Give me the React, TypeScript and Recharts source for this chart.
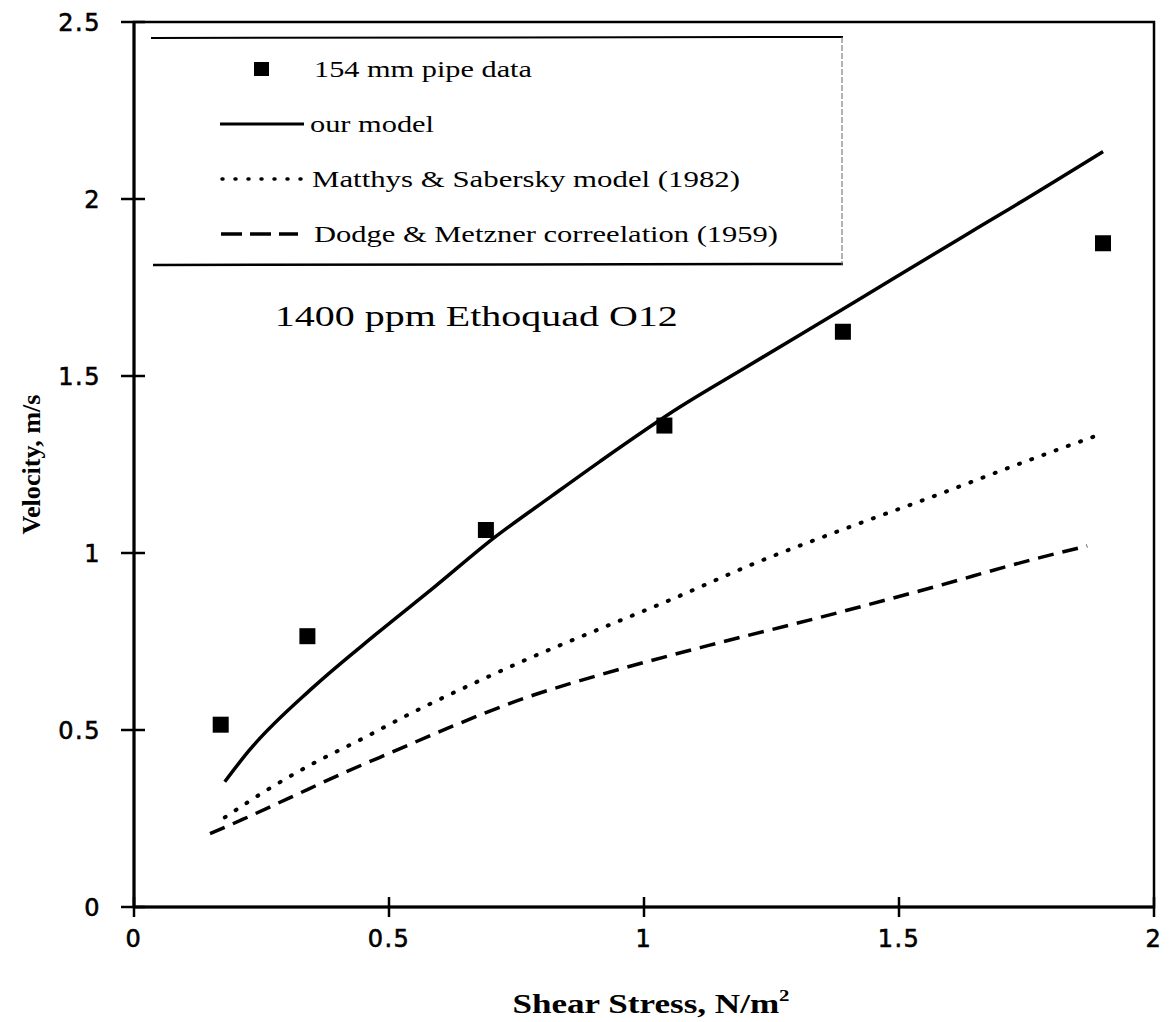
import {
  ComposedChart,
  Line,
  Scatter,
  XAxis,
  YAxis,
  Legend,
  ReferenceArea,
  ReferenceDot,
} from 'recharts';

// 154 mm pipe measurements
const pipeShear = [0.17, 0.34, 0.69, 1.04, 1.39, 1.9];
const pipeVelocity = [0.515, 0.765, 1.065, 1.36, 1.625, 1.875];

// our model
const modelShear = [0.178, 0.225, 0.35, 0.474, 0.59, 0.707, 0.818, 0.914, 1.071, 1.199, 1.414, 1.627, 1.698, 1.9];
const modelVelocity = [0.354, 0.441, 0.619, 0.77, 0.905, 1.044, 1.16, 1.259, 1.413, 1.524, 1.71, 1.895, 1.956, 2.134];

// Matthys & Sabersky model (1982)
const matthysShear = [0.178, 0.267, 0.348, 0.443, 0.551, 0.659, 0.763, 0.924, 1.049, 1.214, 1.406, 1.556, 1.76, 1.894];
const matthysVelocity = [0.253, 0.336, 0.403, 0.472, 0.553, 0.627, 0.695, 0.792, 0.866, 0.969, 1.075, 1.154, 1.265, 1.335];

// Dodge & Metzner correlation (1959)
const dodgeShear = [0.149, 0.214, 0.306, 0.41, 0.515, 0.62, 0.77, 0.914, 1.127, 1.342, 1.556, 1.771, 1.869];
const dodgeVelocity = [0.207, 0.248, 0.309, 0.378, 0.443, 0.508, 0.592, 0.656, 0.739, 0.817, 0.899, 0.985, 1.02];

const xTicks = [0, 0.5, 1, 1.5, 2];
const yTicks = [0, 0.5, 1, 1.5, 2, 2.5];

const seriesNames = [
  '154 mm pipe data',
  'our model',
  'Matthys & Sabersky model (1982)',
  'Dodge & Metzner correelation (1959)',
];
const noteText = '1400 ppm Ethoquad O12';
const noteX = 0.276;
const noteY = 1.64;

const zip = (xs: number[], ys: number[]) => xs.map((x, i) => ({ x, y: ys[i] }));

const pipeData = zip(pipeShear, pipeVelocity);
const modelData = zip(modelShear, modelVelocity);
const matthysData = zip(matthysShear, matthysVelocity);
const dodgeData = zip(dodgeShear, dodgeVelocity);

const SERIF = "'Liberation Serif', 'Times New Roman', serif";
const SANS = "'DejaVu Sans', Arial, sans-serif";
const DOTS = '1 12';
const DASHES = '16 9';

const tickText = {
  fontFamily: SANS,
  fontSize: 24,
  letterSpacing: 1.5,
  fill: '#000',
  stroke: '#000',
  strokeWidth: 0.6,
};

function XTick({ x, y, payload }: any) {
  return (
    <g>
      <line x1={x} y1={y - 10} x2={x} y2={y + 10} stroke="#000" strokeWidth={2.5} />
      <text x={x} y={y + 40} textAnchor="middle" style={tickText}>
        {payload.value}
      </text>
    </g>
  );
}

function YTick({ x, y, payload }: any) {
  return (
    <g>
      <line x1={x - 13} y1={y} x2={x + 11} y2={y} stroke="#000" strokeWidth={2.5} />
      <text x={x - 33} y={y + 9} textAnchor="end" style={tickText}>
        {payload.value}
      </text>
    </g>
  );
}

function XTitle({ viewBox }: any) {
  const cx = viewBox.x + viewBox.width / 2 + 7;
  return (
    <text
      x={cx}
      y={viewBox.y + 106}
      textAnchor="middle"
      textLength={277}
      lengthAdjust="spacingAndGlyphs"
      style={{ fontFamily: SERIF, fontWeight: 'bold', fontSize: 27, fill: '#000' }}
    >
      Shear Stress, N/m
      <tspan dy={-12} style={{ fontSize: 16 }}>2</tspan>
    </text>
  );
}

function YTitle({ viewBox }: any) {
  const cx = viewBox.x + 31;
  const cy = viewBox.y + viewBox.height / 2;
  return (
    <text
      x={cx}
      y={cy}
      transform={`rotate(-90, ${cx}, ${cy})`}
      textAnchor="middle"
      dominantBaseline="central"
      textLength={140}
      lengthAdjust="spacingAndGlyphs"
      style={{ fontFamily: SERIF, fontWeight: 'bold', fontSize: 25, fill: '#000' }}
    >
      Velocity, m/s
    </text>
  );
}

function NoteLabel({ viewBox }: any) {
  return (
    <text
      x={viewBox.x + viewBox.width / 2}
      y={viewBox.y + viewBox.height / 2}
      textLength={403}
      lengthAdjust="spacingAndGlyphs"
      style={{ fontFamily: SERIF, fontSize: 30, fill: '#000' }}
    >
      {noteText}
    </text>
  );
}

function SquareMark({ cx, cy }: any) {
  return <rect x={cx - 8} y={cy - 8} width={16} height={16} fill="#000" />;
}

const legendWidths = [218, 124, 428, 464];
const legendTextX = [163, 159, 161, 163];

function LegendBox() {
  return (
    <div style={{ width: 692, height: 231 }}>
      <svg width={692} height={231} style={{ display: 'block' }}>
        <line x1={0} y1={2} x2={692} y2={1} stroke="#000" strokeWidth={2} />
        <line x1={2} y1={229} x2={692} y2={228} stroke="#000" strokeWidth={2.5} />
        <line x1={691} y1={1} x2={691} y2={229} stroke="#666" strokeWidth={1} strokeDasharray="6 2" />
        {seriesNames.map((name, i) => {
          const iconY = 33 + i * 55;
          return (
            <g key={name}>
              {i === 0 && <rect x={103} y={iconY - 7} width={15} height={14} fill="#000" />}
              {i === 1 && <line x1={69} y1={iconY} x2={153} y2={iconY} stroke="#000" strokeWidth={3} />}
              {i === 2 && (
                <line x1={71} y1={iconY} x2={152} y2={iconY} stroke="#000" strokeWidth={3.5}
                  strokeDasharray={DOTS} strokeLinecap="round" />
              )}
              {i === 3 && (
                <line x1={70} y1={iconY} x2={147} y2={iconY} stroke="#000" strokeWidth={3.5}
                  strokeDasharray="21 8" />
              )}
              <text
                x={legendTextX[i]}
                y={iconY + 8}
                textLength={legendWidths[i]}
                lengthAdjust="spacingAndGlyphs"
                style={{ fontFamily: SERIF, fontSize: 24, fill: '#000' }}
              >
                {name}
              </text>
            </g>
          );
        })}
      </svg>
    </div>
  );
}

export default function App() {
  return (
    <div style={{ position: 'absolute', left: 0, top: 0, background: '#fff' }}>
      <ComposedChart width={1171} height={1022} margin={{ top: 22, right: 17, bottom: 0, left: 0 }}>
        <XAxis
          type="number"
          dataKey="x"
          domain={[0, 2]}
          ticks={xTicks}
          height={115}
          axisLine={{ stroke: '#000', strokeWidth: 3 }}
          tickLine={false}
          tickSize={0}
          tickMargin={0}
          tick={<XTick />}
          label={<XTitle />}
        />
        <YAxis
          type="number"
          dataKey="y"
          domain={[0, 2.5]}
          ticks={yTicks}
          width={134}
          axisLine={{ stroke: '#000', strokeWidth: 3 }}
          tickLine={false}
          tickSize={0}
          tickMargin={0}
          tick={<YTick />}
          label={<YTitle />}
        />
        <ReferenceArea x1={0} x2={2} y1={0} y2={2.5} fill="none" stroke="#000" strokeWidth={2.5} />
        <Line
          data={modelData}
          dataKey="y"
          type="monotone"
          stroke="#000"
          strokeWidth={3.5}
          dot={false}
          activeDot={false}
          isAnimationActive={false}
        />
        <Line
          data={matthysData}
          dataKey="y"
          type="monotone"
          stroke="#000"
          strokeWidth={4}
          strokeDasharray={DOTS}
          strokeLinecap="round"
          dot={false}
          activeDot={false}
          isAnimationActive={false}
        />
        <Line
          data={dodgeData}
          dataKey="y"
          type="monotone"
          stroke="#000"
          strokeWidth={3.5}
          strokeDasharray={DASHES}
          dot={false}
          activeDot={false}
          isAnimationActive={false}
        />
        <Scatter data={pipeData} dataKey="y" shape={<SquareMark />} isAnimationActive={false} />
        <ReferenceDot x={noteX} y={noteY} r={0} fill="none" stroke="none" label={<NoteLabel />} />
        <Legend
          layout="horizontal"
          verticalAlign="middle"
          align="center"
          content={<LegendBox />}
          wrapperStyle={{ position: 'absolute', left: 151, top: 36, width: 692, height: 231 }}
        />
      </ComposedChart>
    </div>
  );
}
